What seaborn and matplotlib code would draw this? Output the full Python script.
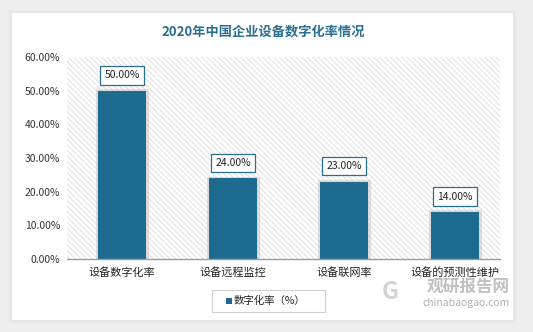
import matplotlib
matplotlib.use("Agg")
import matplotlib.pyplot as plt
from matplotlib.patches import Rectangle, FancyBboxPatch
from matplotlib.ticker import FuncFormatter
import seaborn as sns
import pandas as pd

categories = ["设备数字化率", "设备远程监控", "设备联网率", "设备的预测性维护"]
values = [50.0, 24.0, 23.0, 14.0]
series_name = "数字化率（%）"
title = "2020年中国企业设备数字化率情况"
y_ticks = [0, 10, 20, 30, 40, 50, 60]

bar_color = "#1d6b8f"
title_color = "#2a6f93"

sns.set_theme(style="white")
plt.rcParams["font.family"] = ["Noto Sans CJK SC", "DejaVu Sans"]
plt.rcParams["hatch.linewidth"] = 0.6
plt.rcParams["hatch.color"] = "#dadada"

W, H = 533, 332
fig = plt.figure(figsize=(W / 100, H / 100), dpi=100)
fig.patch.set_facecolor("#eeeeee")

# soft shadow and white card
for i, a in enumerate([0.05, 0.05, 0.06]):
    fig.patches.append(FancyBboxPatch(((10 - i) / W, (H - 322 - i) / H), (505 + 2 * i) / W, (310 + 2 * i) / H,
                                      boxstyle="square,pad=0", transform=fig.transFigure,
                                      facecolor="#bbbbbb", edgecolor="none", alpha=a, zorder=0))
fig.patches.append(Rectangle((12 / W, (H - 320) / H), 501 / W, 307 / H, transform=fig.transFigure,
                             facecolor="white", edgecolor="none", zorder=0.5))

ax = fig.add_axes([67 / W, (H - 259) / H, (500 - 67) / W, (259 - 57) / H])
ax.set_facecolor("none")
ax.set_zorder(2)

df = pd.DataFrame({"category": categories, "value": values})
sns.barplot(data=df, x="category", y="value", color=bar_color, width=0.43,
            saturation=1, ax=ax, zorder=3, edgecolor="none")

# hatched plot background
ax.add_patch(Rectangle((0, 0), 1, 1, transform=ax.transAxes, facecolor="white",
                       edgecolor="#dadada", hatch="\\\\\\\\\\\\", linewidth=0, zorder=0))

# bar shadows
for p in list(ax.patches):
    if p.get_zorder() == 3:
        x, w, h = p.get_x(), p.get_width(), p.get_height()
        ax.add_patch(Rectangle((x - 0.015, 0), w + 0.04, h + 0.5, facecolor="#bfbfbf",
                               edgecolor="none", alpha=0.5, zorder=2))

ax.set_ylim(0, 60)
ax.set_xlim(-0.495, 3.405)
ax.set_yticks(y_ticks)
ax.yaxis.set_major_formatter(FuncFormatter(lambda v, _: f"{v:.2f}%"))
ax.tick_params(axis="y", length=0, labelsize=7.5, colors="#333333", pad=5)
ax.tick_params(axis="x", length=0, labelsize=8, colors="#222222", pad=6)
ax.set_xlabel("")
ax.set_ylabel("")
for s in ["top", "right", "left"]:
    ax.spines[s].set_visible(False)
ax.spines["bottom"].set_color("#9a9a9a")
ax.spines["bottom"].set_linewidth(1.0)
ax.spines["bottom"].set_zorder(4)

for i, v in enumerate(values):
    ax.annotate(f"{v:.2f}%", xy=(i, v), xytext=(0, 11), textcoords="offset points",
                ha="center", va="center", fontsize=7.5, color="#222222", zorder=5,
                bbox=dict(boxstyle="square,pad=0.4", facecolor="white",
                          edgecolor=title_color, linewidth=0.9))

fig.text(263 / W, 1 - 32 / H, title, ha="center", va="center", fontsize=9.5,
         fontweight="bold", color=title_color)

# legend
fig.patches.append(Rectangle((212 / W, (H - 312) / H), 113 / W, 22 / H, transform=fig.transFigure,
                             facecolor="white", edgecolor="#d0d0d0", linewidth=0.8, zorder=3))
fig.patches.append(Rectangle((226 / W, (H - 304) / H), 6 / W, 6 / H, transform=fig.transFigure,
                             facecolor=bar_color, edgecolor="none", zorder=4))
fig.text(234 / W, 1 - 301 / H, series_name, ha="left", va="center", fontsize=7.5,
         color="#222222", zorder=5)

# watermark
fig.text(510 / W, 1 - 287 / H, "观研报告网", ha="right", va="center", fontsize=12,
         fontweight="bold", color="#b0b0b0", alpha=0.8, zorder=6)
fig.text(510 / W, 1 - 303 / H, "chinabaogao.com", ha="right", va="center", fontsize=7.5,
         color="#a8a8a8", alpha=0.9, zorder=6)
fig.text(390 / W, 1 - 292 / H, "G", ha="center", va="center", fontsize=17,
         fontweight="bold", color="#c8c8c8", alpha=0.8, zorder=6)

fig.savefig("out.png", dpi=100, facecolor=fig.get_facecolor())
